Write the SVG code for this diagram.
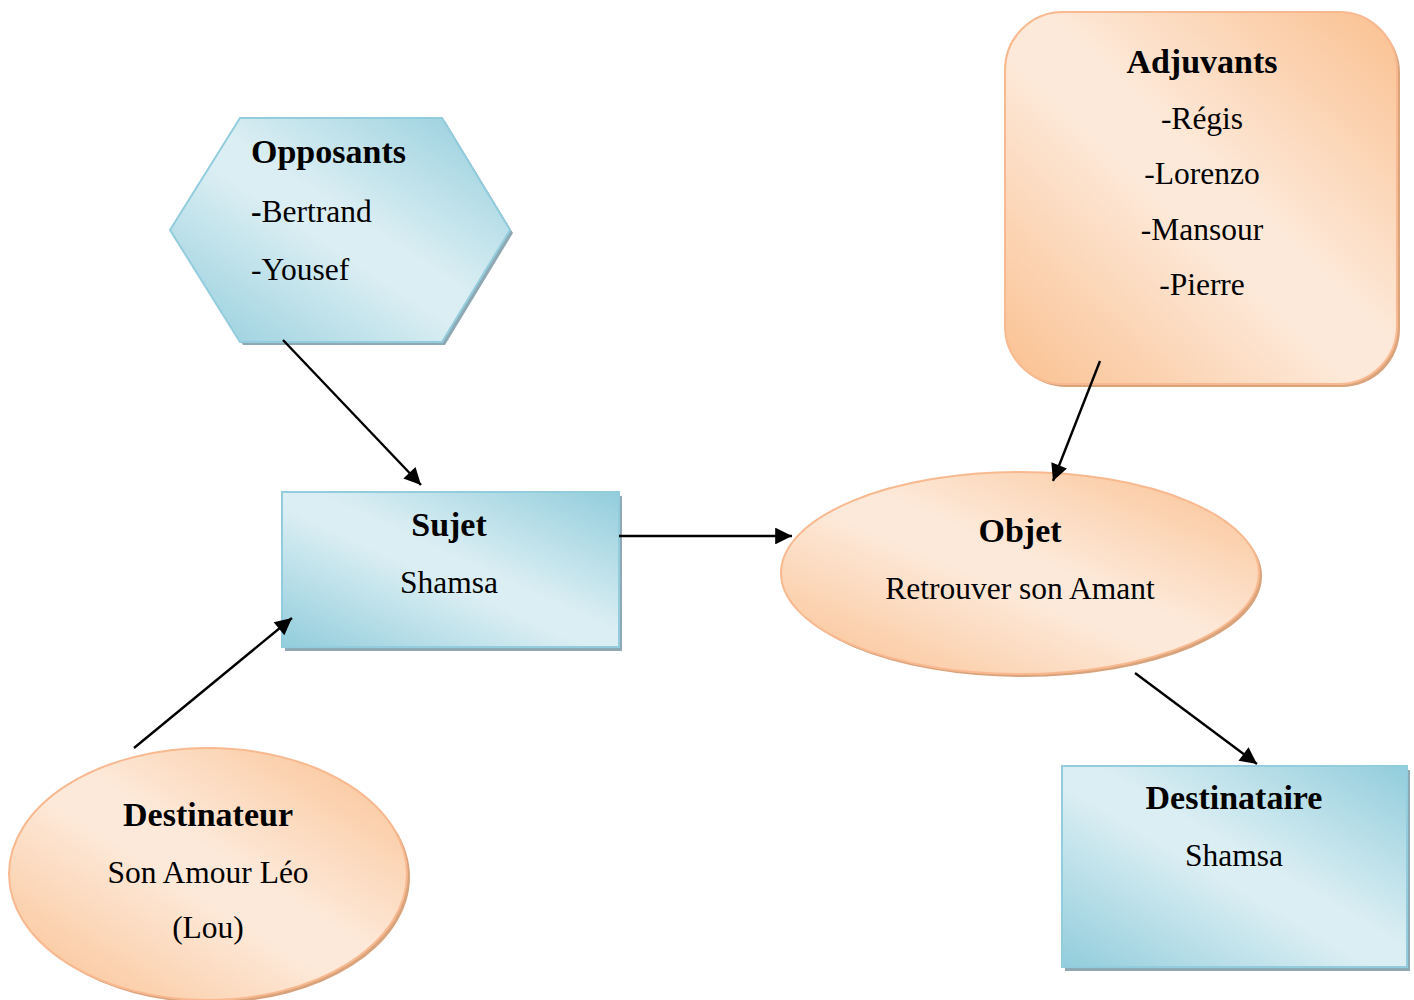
<svg xmlns="http://www.w3.org/2000/svg" width="1414" height="1000" viewBox="0 0 1414 1000">
<defs>
<linearGradient id="gBlue" x1="0" y1="1" x2="1" y2="0">
<stop offset="0" stop-color="#92cddc"/>
<stop offset="0.45" stop-color="#daeef3"/>
<stop offset="0.55" stop-color="#daeef3"/>
<stop offset="1" stop-color="#92cddc"/>
</linearGradient>
<linearGradient id="gOrange" x1="0" y1="1" x2="1" y2="0">
<stop offset="0" stop-color="#fac090"/>
<stop offset="0.45" stop-color="#fde9d9"/>
<stop offset="0.55" stop-color="#fde9d9"/>
<stop offset="1" stop-color="#fac090"/>
</linearGradient>
<marker id="arr" viewBox="0 0 10 10" refX="10" refY="5" markerWidth="8" markerHeight="7" markerUnits="strokeWidth" orient="auto">
<path d="M0,0 L10,5 L0,10 z" fill="#000"/>
</marker>
</defs>
<style>
.blue{fill:url(#gBlue);stroke:#93cddd;stroke-width:2}
.orange{fill:url(#gOrange);stroke:#f9b990;stroke-width:2}
.shb{fill:#8ea9b4}
.sho{fill:#d9a37c}
text{font-family:"Liberation Serif","Times New Roman",serif;fill:#000}
.t{font-size:34px;font-weight:bold}
.r{font-size:31.5px}
.c{text-anchor:middle}
.conn line{stroke:#000;stroke-width:2.4;marker-end:url(#arr)}
</style>
<rect width="1414" height="1000" fill="#fff"/>

<g id="opposants">
<polygon class="shb" points="173,233 243,121 445,121 513,233 445,345 243,345"/>
<polygon class="blue" points="170,230 240,118 442,118 510,230 442,342 240,342"/>
<text class="t" x="251" y="163">Opposants</text>
<text class="r" x="251" y="222"><tspan font-weight="bold">-</tspan>Bertrand</text>
<text class="r" x="251" y="280">-Yousef</text>
</g>

<g id="adjuvants">
<rect class="sho" x="1008" y="15" width="392" height="372" rx="58" ry="58"/>
<rect class="orange" x="1005" y="12" width="392" height="372" rx="58" ry="58"/>
<text class="t c" x="1202" y="73">Adjuvants</text>
<text class="r c" x="1202" y="129">-Régis</text>
<text class="r c" x="1202" y="184">-Lorenzo</text>
<text class="r c" x="1202" y="240">-Mansour</text>
<text class="r c" x="1202" y="295">-Pierre</text>
</g>

<g id="sujet">
<rect class="shb" x="285" y="496" width="337" height="155"/>
<rect class="blue" x="282" y="492" width="337" height="155"/>
<text class="t c" x="449" y="536">Sujet</text>
<text class="r c" x="449" y="593">Shamsa</text>
</g>

<g id="objet">
<ellipse class="sho" cx="1023" cy="576" rx="239" ry="101"/>
<ellipse class="orange" cx="1020" cy="573" rx="239" ry="101"/>
<text class="t c" x="1020" y="542">Objet</text>
<text class="r c" x="1020" y="599">Retrouver son Amant</text>
</g>

<g id="destinateur">
<ellipse class="sho" cx="211" cy="877" rx="199" ry="126"/>
<ellipse class="orange" cx="208" cy="874" rx="199" ry="126"/>
<text class="t c" x="208" y="826">Destinateur</text>
<text class="r c" x="208" y="883">Son Amour Léo</text>
<text class="r c" x="208" y="938">(Lou)</text>
</g>

<g id="destinataire">
<rect class="shb" x="1065" y="770" width="345" height="201"/>
<rect class="blue" x="1062" y="766" width="345" height="201"/>
<text class="t c" x="1234" y="809">Destinataire</text>
<text class="r c" x="1234" y="866">Shamsa</text>
</g>

<g id="connectors" class="conn">
<line x1="283" y1="340" x2="421" y2="485"/>
<line x1="619" y1="536" x2="792" y2="536"/>
<line x1="1100" y1="361" x2="1053" y2="481"/>
<line x1="1135" y1="673" x2="1257" y2="764"/>
<line x1="134" y1="748" x2="292" y2="618"/>
</g>
</svg>
